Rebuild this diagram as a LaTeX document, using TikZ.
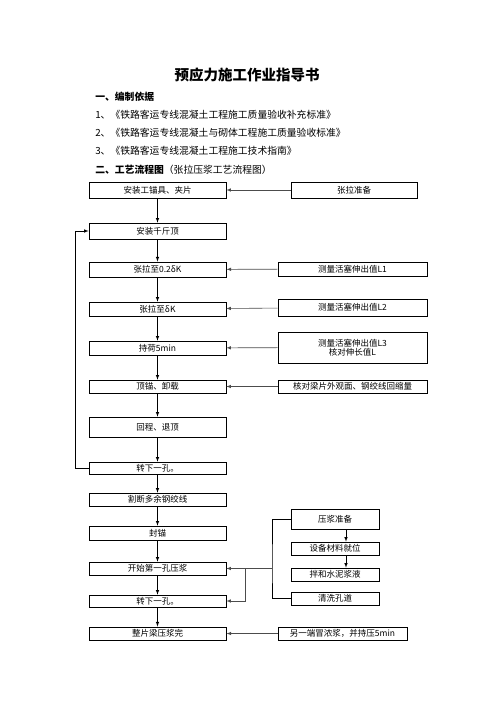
\documentclass[tikz,border=0pt]{standalone}
\usepackage{fontspec}
\newfontfamily\cjk{Noto Sans CJK SC}
\usetikzlibrary{arrows,backgrounds}

\begin{document}
\begin{tikzpicture}[x=1pt, y=-1pt, >=latex, line width=0.6pt,
  stage/.style={draw, minimum width=137pt, inner sep=0pt, font=\cjk\fontsize{8.5}{9.5}\selectfont},
  check/.style={draw, minimum width=149pt, inner sep=0pt, font=\cjk\fontsize{8.5}{9.5}\selectfont, align=center},
  prepbox/.style={draw, minimum width=88pt, minimum height=13pt, inner sep=0pt, font=\cjk\fontsize{8.5}{9.5}\selectfont},
  line/.style={font=\cjk\fontsize{9.8}{11}\selectfont, anchor=west, inner sep=0pt}]
  \useasboundingbox (0,0) rectangle (496,702);
  % heading and references
  \node (title) at (247,75) {\cjk\bfseries\fontsize{14.5}{16}\selectfont 预应力施工作业指导书};
  \node[line] (basis) at (95,97) {\bfseries 一、编制依据};
  \node[line] (std1) at (95,115) {1、《铁路客运专线混凝土工程施工质量验收补充标准》};
  \node[line] (std2) at (95,133) {2、《铁路客运专线混凝土与砌体工程施工质量验收标准》};
  \node[line] (std3) at (95,151) {3、《铁路客运专线混凝土工程施工技术指南》};
  \node[line] (flow) at (95,170) {\bfseries 二、工艺流程图\mdseries（张拉压浆工艺流程图）};
  % main column
  \node[stage, minimum height=16pt] (fix) at (157.5,190) {安装工锚具、夹片};
  \node[stage, minimum height=16pt] (jack) at (157.5,231) {安装千斤顶};
  \node[stage, minimum height=15pt, line width=1pt] (t1) at (157.5,269.5) {张拉至0.2δK};
  \node[stage, minimum height=14pt] (t2) at (157.5,309) {张拉至δK};
  \node[stage, minimum height=14pt] (hold) at (157.5,348) {持荷5min};
  \node[stage, minimum height=13pt] (lock) at (157.5,386.5) {顶锚、卸载};
  \node[stage, minimum height=20pt] (back) at (157.5,427) {回程、退顶};
  \node[stage, minimum height=12pt] (next1) at (157.5,468) {转下一孔。};
  \node[stage, minimum height=13pt] (cut) at (157.5,499.5) {割断多余钢绞线};
  \node[stage, minimum height=14pt] (seal) at (157.5,533) {封锚};
  \node[stage, minimum height=13pt] (grout) at (157.5,568.5) {开始第一孔压浆};
  \node[stage, minimum height=12pt] (next2) at (157.5,601) {转下一孔。};
  \node[stage, minimum height=13pt, line width=1pt] (done) at (157.5,633.5) {整片梁压浆完};
  % right column
  \node[check, minimum width=126pt, minimum height=16pt] (prep) at (354,190) {张拉准备};
  \node[check, minimum height=14pt] (m1) at (352.5,269) {测量活塞伸出值L1};
  \node[check, minimum height=17pt] (m2) at (352.5,307.5) {测量活塞伸出值L2};
  \node[check, minimum height=31pt] (m3) at (352.5,347.5) {测量活塞伸出值L3\\核对伸长值L};
  \node[check, minimum height=13pt, line width=1pt] (look) at (352.5,386.5) {核对梁片外观面、钢绞线回缩量};
  \node[prepbox, minimum height=20pt] (gprep) at (335,519) {压浆准备};
  \node[prepbox] (equip) at (335,548.5) {设备材料就位};
  \node[prepbox] (mix) at (335,574.5) {拌和水泥浆液};
  \node[prepbox] (clean) at (335,598.5) {清洗孔道};
  \node[check, minimum width=129pt, minimum height=13pt] (other) at (342.5,633.5) {另一端冒浓浆，并持压5min};
  \coordinate (loop) at (75,468);
  \coordinate (bus) at (272,568.5);
  \coordinate (fork) at (245,568.5);
  % connectors
  \path[->]
  (fix) edge (jack)
  (jack) edge (t1)
  (t1) edge (t2)
  (t2) edge (hold)
  (hold) edge (lock)
  (lock) edge (back)
  (back) edge (next1)
  (next1) edge (cut)
  (cut) edge (seal)
  (seal) edge (grout)
  (grout) edge (next2)
  (next2) edge (done)
  ;
  \path[->, black!70]
  (prep) edge (fix)
  (m1) edge (t1)
  (m2) edge (t2)
  (m3) edge (hold)
  (look) edge (lock)
  (other) edge (done)
  ;
  \draw[->] (next1.west) -- (loop) |- (jack.west);
  \draw (gprep.west) -| (bus) |- (clean.west);
  \draw[->, black!70] (bus) -- (grout.east);
  \draw[->, black!70] (fork) |- (next2.east);
  \draw[->] ([xshift=11pt]gprep.south) -- ([xshift=11pt]equip.north);
  \draw[->] ([xshift=11pt]equip.south) -- ([xshift=11pt]mix.north);
\end{tikzpicture}
\end{document}
